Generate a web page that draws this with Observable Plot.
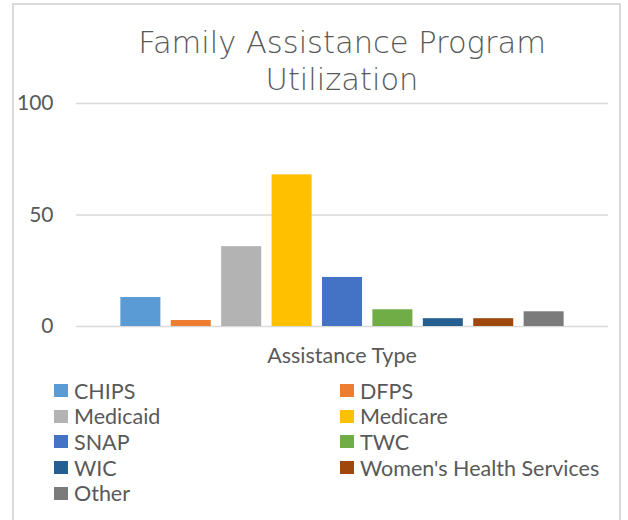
<!DOCTYPE html>
<html>
<head>
<meta charset="utf-8">
<script src="https://cdn.jsdelivr.net/npm/d3@7"></script>
<script src="https://cdn.jsdelivr.net/npm/@observablehq/plot@0.6"></script>
<style>
  html, body { margin: 0; padding: 0; background: #fff; }
  #wrap { position: relative; width: 628px; height: 520px; overflow: hidden; background: #fff; font-family: Lato, "Open Sans", sans-serif; color: #595959; }
  #frame { position: absolute; left: 12px; top: 3px; width: 609px; height: 560px; border: 2px solid #d9d9d9; box-sizing: border-box; }
  #title { position: absolute; left: 76px; width: 532px; top: 24px; text-align: center; font-family: "DejaVu Sans", sans-serif; font-weight: 200; font-size: 30.5px; line-height: 37px; color: #595959; }
  #chart { position: absolute; left: 0; top: 0; }
  #xlabel { position: absolute; left: 76px; width: 532px; top: 342px; text-align: center; font-size: 21.5px; color: #595959; }
  #legend { position: absolute; left: 54px; top: 378px; display: grid; grid-template-columns: 286px 260px; grid-auto-rows: 25.6px; font-size: 21.5px; color: #595959; }
  .item { display: flex; align-items: center; white-space: nowrap; }
  .sw { width: 14px; height: 13px; margin-right: 6px; flex: none; }
</style>
</head>
<body>
<div id="wrap">
  <div id="frame"></div>
  <div id="chart"></div>
  <div id="title">Family Assistance Program<br>Utilization</div>
  <div id="xlabel">Assistance Type</div>
  <div id="legend"></div>
</div>
<script>
const categories = ["CHIPS", "DFPS", "Medicaid", "Medicare", "SNAP", "TWC", "WIC", "Women's Health Services", "Other"];
const values = [13, 2.7, 35.8, 68, 22, 7.5, 3.5, 3.5, 6.6];
const colors = ["#5B9BD5", "#ED7D31", "#B3B3B3", "#FFC000", "#4472C4", "#70AD47", "#255E91", "#9E480E", "#7B7B7B"];
const yTicks = [0, 50, 100];

const data = categories.map((c, i) => ({type: c, value: values[i]}));

const plot = Plot.plot({
  width: 628,
  height: 340,
  marginTop: 103,
  marginBottom: 14,
  marginLeft: 76,
  marginRight: 20,
  style: {background: "transparent", color: "#595959", fontFamily: "Lato, 'Open Sans', sans-serif"},
  x: {domain: categories, paddingInner: 0.206, paddingOuter: 0.88, round: false, axis: null},
  y: {domain: [0, 100], axis: null},
  color: {domain: categories, range: colors},
  marks: [
    Plot.gridY(yTicks, {stroke: "#d9d9d9", strokeOpacity: 1, strokeWidth: 1.6}),
    Plot.barY(data, {x: "type", y: "value", fill: "type"}),
    Plot.axisY(yTicks, {tickSize: 0, tickPadding: 23, fontSize: 21, fill: "#595959", label: null})
  ]
});
document.getElementById("chart").appendChild(plot);

const legend = document.getElementById("legend");
categories.forEach((c, i) => {
  const item = document.createElement("div");
  item.className = "item";
  const sw = document.createElement("span");
  sw.className = "sw";
  sw.style.background = colors[i];
  const t = document.createElement("span");
  t.textContent = c;
  item.appendChild(sw);
  item.appendChild(t);
  legend.appendChild(item);
});
</script>
</body>
</html>
